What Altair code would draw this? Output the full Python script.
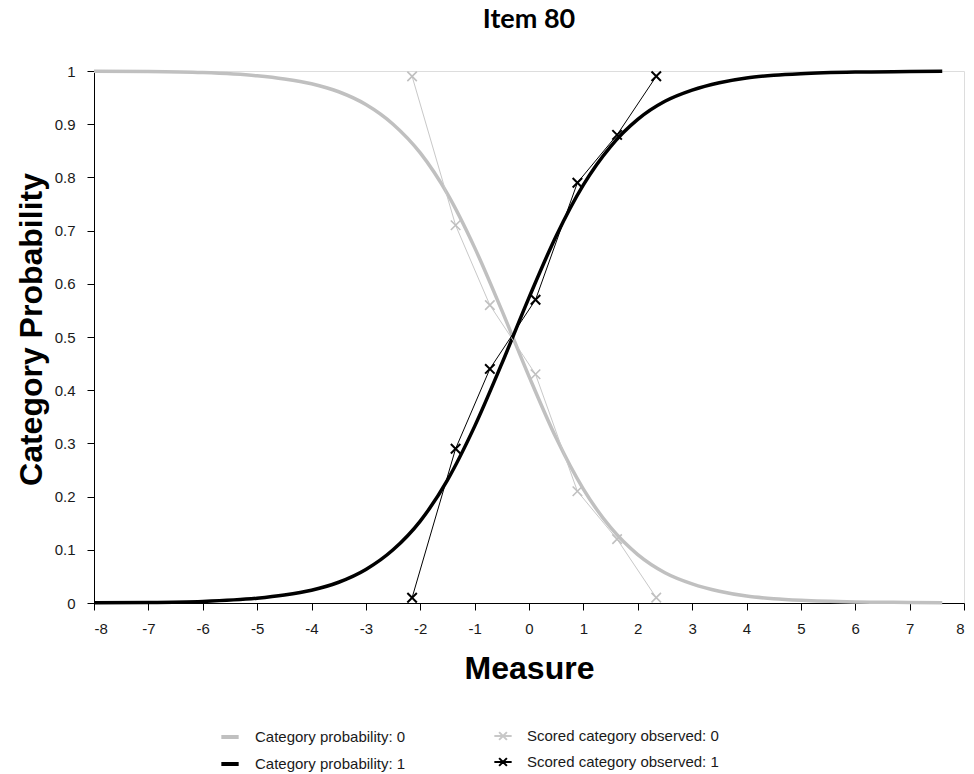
import altair as alt
import pandas as pd

# ---- data ----
curve_names = ["Category probability: 0", "Category probability: 1"]
curve_colors = ["#c0c0c0", "#000000"]
obs_names = ["Scored category observed: 0", "Scored category observed: 1"]
obs_colors = ["#c8c8c8", "#000000"]

curve_x = [-8, -7, -6, -5, -4.5, -4, -3.5, -3, -2.5, -2, -1.5, -1, -0.5,
           0, 0.5, 1, 1.5, 2, 2.5, 3, 3.5, 4, 4.5, 5, 6, 7, 7.6]
prob_1 = [0.0005, 0.001, 0.003, 0.009, 0.015, 0.024, 0.039, 0.063, 0.100,
          0.154, 0.231, 0.332, 0.450, 0.574, 0.690, 0.786, 0.858, 0.909,
          0.943, 0.964, 0.978, 0.987, 0.992, 0.995, 0.998, 0.999, 0.9995]
prob_0 = [0.9995, 0.999, 0.997, 0.991, 0.985, 0.976, 0.961, 0.937, 0.900,
          0.846, 0.769, 0.668, 0.550, 0.426, 0.310, 0.214, 0.142, 0.091,
          0.057, 0.036, 0.022, 0.013, 0.008, 0.005, 0.002, 0.001, 0.0005]

obs_x = [-2.15, -1.35, -0.72, 0.12, 0.89, 1.62, 2.34]
obs_1 = [0.01, 0.29, 0.44, 0.57, 0.79, 0.88, 0.99]
obs_0 = [0.99, 0.71, 0.56, 0.43, 0.21, 0.12, 0.01]

x_ticks = list(range(-8, 9))
y_ticks = [0, 0.1, 0.2, 0.3, 0.4, 0.5, 0.6, 0.7, 0.8, 0.9, 1]

curve_rows = []
for xv, yv in zip(curve_x, prob_0):
    curve_rows.append({"x": xv, "y": yv, "series": curve_names[0]})
for xv, yv in zip(curve_x, prob_1):
    curve_rows.append({"x": xv, "y": yv, "series": curve_names[1]})
curves = pd.DataFrame(curve_rows)

obs_rows = []
for xv, yv in zip(obs_x, obs_0):
    obs_rows.append({"x": xv, "y": yv, "series": obs_names[0]})
for xv, yv in zip(obs_x, obs_1):
    obs_rows.append({"x": xv, "y": yv, "series": obs_names[1]})
obs = pd.DataFrame(obs_rows)

XPATH = "M-1,-1L1,1M-1,1L1,-1"
LEG_OBS = "M-1,0L1,0M-0.45,-0.45L0.45,0.45M-0.45,0.45L0.45,-0.45"

x_enc = alt.X(
    "x:Q",
    scale=alt.Scale(domain=[-8, 8], nice=False, zero=False),
    axis=alt.Axis(
        orient="bottom", values=x_ticks, labelExpr="'' + datum.value",
        title="Measure", grid=False,
        domainColor="#000", tickColor="#000", tickSize=7, labelPadding=11,
        labelFont="Liberation Sans", labelFontSize=15, labelColor="#1a1a1a",
        titleFont="Liberation Sans", titleFontSize=32, titleFontWeight="bold",
        titleColor="#000", titleY=65, titleBaseline="middle",
    ),
)
y_enc = alt.Y(
    "y:Q",
    scale=alt.Scale(domain=[0, 1], nice=False),
    axis=alt.Axis(
        orient="left", values=y_ticks, format="~g", title="Category Probability",
        grid=False, domainColor="#000", tickColor="#000", tickSize=7,
        labelPadding=12, labelFont="Liberation Sans", labelFontSize=15,
        labelColor="#1a1a1a", titleFont="Liberation Sans", titleFontSize=32,
        titleFontWeight="bold", titleColor="#000", titleX=-63, titleY=258,
        titleAngle=270, titleBaseline="middle", titleAlign="center",
    ),
)

common_leg = dict(
    title=None, orient="none", direction="vertical", rowPadding=8,
    symbolSize=300, labelOffset=14, labelFont="Liberation Sans",
    labelFontSize=15, labelColor="#1a1a1a", labelLimit=400,
)
curve_color = alt.Color(
    "series:N",
    scale=alt.Scale(domain=curve_names, range=curve_colors),
    legend=alt.Legend(legendX=125, legendY=655, symbolType="stroke",
                      symbolStrokeWidth=4, **common_leg),
)
obs_stroke = alt.Stroke(
    "series:N",
    scale=alt.Scale(domain=obs_names, range=obs_colors),
    legend=alt.Legend(legendX=399, legendY=655, symbolType=LEG_OBS,
                      symbolStrokeWidth=2, **common_leg),
)

cbase = alt.Chart(curves)
obase = alt.Chart(obs)

curve_lines = cbase.mark_line(strokeWidth=3.5, interpolate="monotone").encode(
    x=x_enc, y=y_enc, color=curve_color, detail="series:N")
obs_lines = obase.mark_line(strokeWidth=1).encode(
    x=x_enc, y=y_enc, stroke=obs_stroke, detail="series:N")
gray_pts = obase.transform_filter(alt.datum.series == obs_names[0]).mark_point(
    shape=XPATH, filled=False, size=90, strokeWidth=1.6, opacity=1).encode(
    x=x_enc, y=y_enc, color=alt.value("#c0c0c0"))
black_pts = obase.transform_filter(alt.datum.series == obs_names[1]).mark_point(
    shape=XPATH, filled=False, size=90, strokeWidth=2, opacity=1).encode(
    x=x_enc, y=y_enc, color=alt.value("#000000"))

chart = alt.layer(
    curve_lines, obs_lines, gray_pts, black_pts
).properties(
    width=870, height=532,
    title=alt.TitleParams("Item 80", font="Lato", fontSize=27, fontWeight="bold",
                          color="#000", anchor="middle", offset=30),
    autosize=alt.AutoSizeParams(type="none"),
    padding={"left": 94, "top": 71, "right": 10, "bottom": 171},
).configure_view(
    stroke="#444", strokeWidth=1
).configure(background="white")

chart.save("out.html", embed_options={"renderer": "svg", "actions": False})
